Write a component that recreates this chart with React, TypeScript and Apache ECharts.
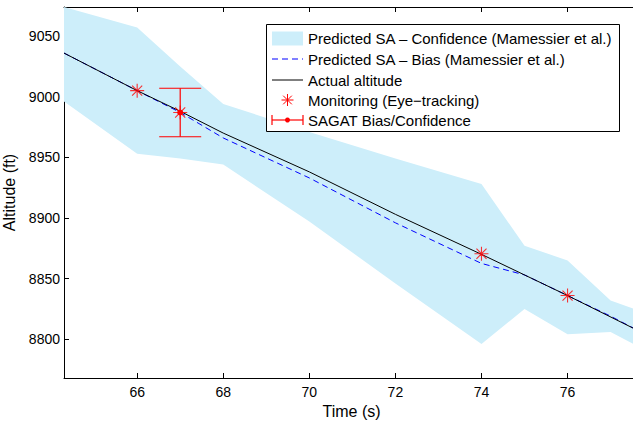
import React, { useEffect, useRef } from "react";
import * as echarts from "echarts";

const xTicks = [66, 68, 70, 72, 74, 76];
const yTicks = [8800, 8850, 8900, 8950, 9000, 9050];

const bandTime = [64.3, 66, 67, 68, 70, 72, 74, 75, 76, 77, 77.7];
const bandUpper = [9074, 9057, 9025, 8994, 8971, 8949, 8928, 8877, 8865, 8832, 8823];
const bandLower = [8996, 8953, 8949, 8944, 8897, 8846, 8796, 8825, 8804, 8806, 8793];

const actualTime = [64.3, 66, 67, 68, 70, 72, 74, 76, 77.7];
const actualAlt = [9036, 9005, 8988, 8970, 8938, 8903, 8870, 8836, 8806];

const biasTime = [64.3, 66, 67, 68, 70, 72, 74, 75, 76, 77, 77.7];
const biasAlt = [9036, 9005, 8987, 8966, 8933, 8896, 8862.5, 8853, 8836, 8819, 8806];

const monitorTime = [66, 67, 74, 76];
const monitorAlt = [9005, 8987, 8870.5, 8836];

const sagatTime = [67];
const sagatMean = [8987];
const sagatLow = [8967];
const sagatHigh = [9007];

const legendLabels = [
  "Predicted SA \u2013 Confidence (Mamessier et al.)",
  "Predicted SA \u2013 Bias (Mamessier et al.)",
  "Actual altitude",
  "Monitoring (Eye\u2212tracking)",
  "SAGAT Bias/Confidence",
];

const FONT = "'Liberation Sans', Arial, Helvetica, sans-serif";
const BAND = "#cdeefa";
const RED = "#ff0000";

export default function App() {
  const ref = useRef<HTMLDivElement>(null);
  useEffect(() => {
    if (!ref.current) return;
    const chart = echarts.init(ref.current, undefined, { renderer: "svg" });

    const legendX = 266.5;
    const legendY = 24.5;
    const rowY = [38.5, 59, 80, 100, 120];
    const symL = 272;
    const symR = 303;
    const symC = (symL + symR) / 2;
    const textX = 308;

    const star = (cx: number, cy: number, r: number) => {
      const d = r * 0.72;
      return [
        [cx, cy - r, cx, cy + r],
        [cx - r, cy, cx + r, cy],
        [cx - d, cy - d, cx + d, cy + d],
        [cx - d, cy + d, cx + d, cy - d],
      ].map((s) => ({
        type: "line",
        z: 101,
        shape: { x1: s[0], y1: s[1], x2: s[2], y2: s[3] },
        style: { stroke: RED, lineWidth: 1 },
      }));
    };

    const legendElements: any[] = [
      {
        type: "rect",
        z: 100,
        shape: { x: legendX, y: legendY, width: 353, height: 107 },
        style: { fill: "#ffffff", stroke: "#000000", lineWidth: 1 },
      },
      {
        type: "rect",
        z: 101,
        shape: { x: symL, y: rowY[0] - 7, width: symR - symL, height: 14 },
        style: { fill: BAND },
      },
      {
        type: "line",
        z: 101,
        shape: { x1: symL, y1: rowY[1], x2: symR, y2: rowY[1] },
        style: { stroke: "#0000ff", lineWidth: 1, lineDash: [6, 4] },
      },
      {
        type: "line",
        z: 101,
        shape: { x1: symL, y1: rowY[2], x2: symR, y2: rowY[2] },
        style: { stroke: "#000000", lineWidth: 1 },
      },
      ...star(symC, rowY[3], 6),
      {
        type: "line",
        z: 101,
        shape: { x1: symL, y1: rowY[4], x2: symR, y2: rowY[4] },
        style: { stroke: RED, lineWidth: 1.2 },
      },
      {
        type: "line",
        z: 101,
        shape: { x1: symL, y1: rowY[4] - 5, x2: symL, y2: rowY[4] + 5 },
        style: { stroke: RED, lineWidth: 1.2 },
      },
      {
        type: "line",
        z: 101,
        shape: { x1: symR, y1: rowY[4] - 5, x2: symR, y2: rowY[4] + 5 },
        style: { stroke: RED, lineWidth: 1.2 },
      },
      {
        type: "circle",
        z: 101,
        shape: { cx: symC, cy: rowY[4], r: 2.5 },
        style: { fill: RED },
      },
      ...legendLabels.map((t, i) => ({
        type: "text",
        z: 101,
        x: textX,
        y: rowY[i],
        style: {
          text: t,
          fill: "#000000",
          font: `15px ${FONT}`,
          verticalAlign: "middle",
          align: "left",
        },
      })),
    ];

    const axisCommon = {
      type: "value",
      axisLine: { show: true, onZero: false, lineStyle: { color: "#000000", width: 1 } },
      splitLine: { show: false },
    };

    const bandData = bandTime.map((t, i) => [t, bandLower[i], bandUpper[i]]);

    chart.setOption({
      animation: false,
      backgroundColor: "#ffffff",
      textStyle: { fontFamily: FONT },
      grid: { left: 64, right: -6, top: 7, bottom: 43, outerBoundsMode: "none", containLabel: false },
      xAxis: [
        {
          ...axisCommon,
          position: "bottom",
          min: 64.3,
          max: 77.66,
          axisTick: { show: true, inside: true, length: 5, customValues: xTicks, lineStyle: { color: "#000" } },
          axisLabel: { show: true, customValues: xTicks, fontSize: 14, color: "#000", margin: 7, fontFamily: FONT, formatter: (v: number) => String(v) },
          name: "Time (s)",
          nameLocation: "middle",
          nameGap: 20,
          nameTextStyle: { fontSize: 16, color: "#000", fontFamily: FONT },
        },
        {
          ...axisCommon,
          position: "top",
          min: 64.3,
          max: 77.66,
          axisTick: { show: true, inside: true, length: 5, customValues: xTicks, lineStyle: { color: "#000" } },
          axisLabel: { show: false },
        },
      ],
      yAxis: [
        {
          ...axisCommon,
          position: "left",
          min: 8768,
          max: 9074,
          axisTick: { show: true, inside: true, length: 5, customValues: yTicks, lineStyle: { color: "#000" } },
          axisLabel: { show: true, customValues: yTicks, fontSize: 14, color: "#000", margin: 4, fontFamily: FONT, formatter: (v: number) => String(v) },
          name: "Altitude (ft)",
          nameLocation: "middle",
          nameGap: 44,
          nameTextStyle: { fontSize: 16, color: "#000", fontFamily: FONT },
        },
      ],
      series: [
        {
          type: "custom",
          name: "Predicted SA \u2013 Confidence (Mamessier et al.)",
          data: [0],
          z: 1,
          silent: true,
          clip: true,
          renderItem: (params: any, api: any) => {
            const upperPts = bandData.map((d) => api.coord([d[0], d[2]]));
            const lowerPts = bandData.map((d) => api.coord([d[0], d[1]])).reverse();
            const cs = params.coordSys;
            return {
              type: "polygon",
              shape: { points: upperPts.concat(lowerPts) },
              style: { fill: BAND, stroke: "none" },
              clipPath: {
                type: "rect",
                shape: { x: cs.x, y: cs.y, width: cs.width, height: cs.height },
              },
            };
          },
        },
        {
          type: "line",
          name: "Predicted SA \u2013 Bias (Mamessier et al.)",
          data: biasTime.map((t, i) => [t, biasAlt[i]]),
          showSymbol: false,
          lineStyle: { color: "#0000ff", width: 1, type: [6, 4] },
          z: 3,
        },
        {
          type: "line",
          name: "Actual altitude",
          data: actualTime.map((t, i) => [t, actualAlt[i]]),
          showSymbol: false,
          lineStyle: { color: "#000000", width: 1 },
          z: 4,
        },
        {
          type: "custom",
          name: "SAGAT Bias/Confidence",
          data: sagatTime.map((t, i) => [t, sagatMean[i], sagatLow[i], sagatHigh[i]]),
          encode: { x: 0, y: [1, 2, 3] },
          z: 5,
          renderItem: (params: any, api: any) => {
            const x = api.value(0);
            const pm = api.coord([x, api.value(1)]);
            const pl = api.coord([x, api.value(2)]);
            const ph = api.coord([x, api.value(3)]);
            const hw = 21;
            const st = { stroke: RED, lineWidth: 1.2 };
            return {
              type: "group",
              children: [
                { type: "line", shape: { x1: ph[0], y1: ph[1], x2: pl[0], y2: pl[1] }, style: st },
                { type: "line", shape: { x1: ph[0] - hw, y1: ph[1], x2: ph[0] + hw, y2: ph[1] }, style: st },
                { type: "line", shape: { x1: pl[0] - hw, y1: pl[1], x2: pl[0] + hw, y2: pl[1] }, style: st },
                { type: "circle", shape: { cx: pm[0], cy: pm[1], r: 3 }, style: { fill: RED } },
              ],
            };
          },
        },
        {
          type: "scatter",
          name: "Monitoring (Eye\u2212tracking)",
          data: monitorTime.map((t, i) => [t, monitorAlt[i]]),
          symbol: "path://M0,-10L0,10M-10,0L10,0M-7.2,-7.2L7.2,7.2M-7.2,7.2L7.2,-7.2",
          symbolSize: 14,
          itemStyle: { color: "transparent", borderColor: RED, borderWidth: 1.1 },
          z: 6,
        },
      ],
      graphic: { elements: legendElements },
    });

    return () => chart.dispose();
  }, []);

  return (
    <div
      ref={ref}
      style={{ position: "fixed", left: 0, top: 0, width: 633, height: 421 }}
    />
  );
}
